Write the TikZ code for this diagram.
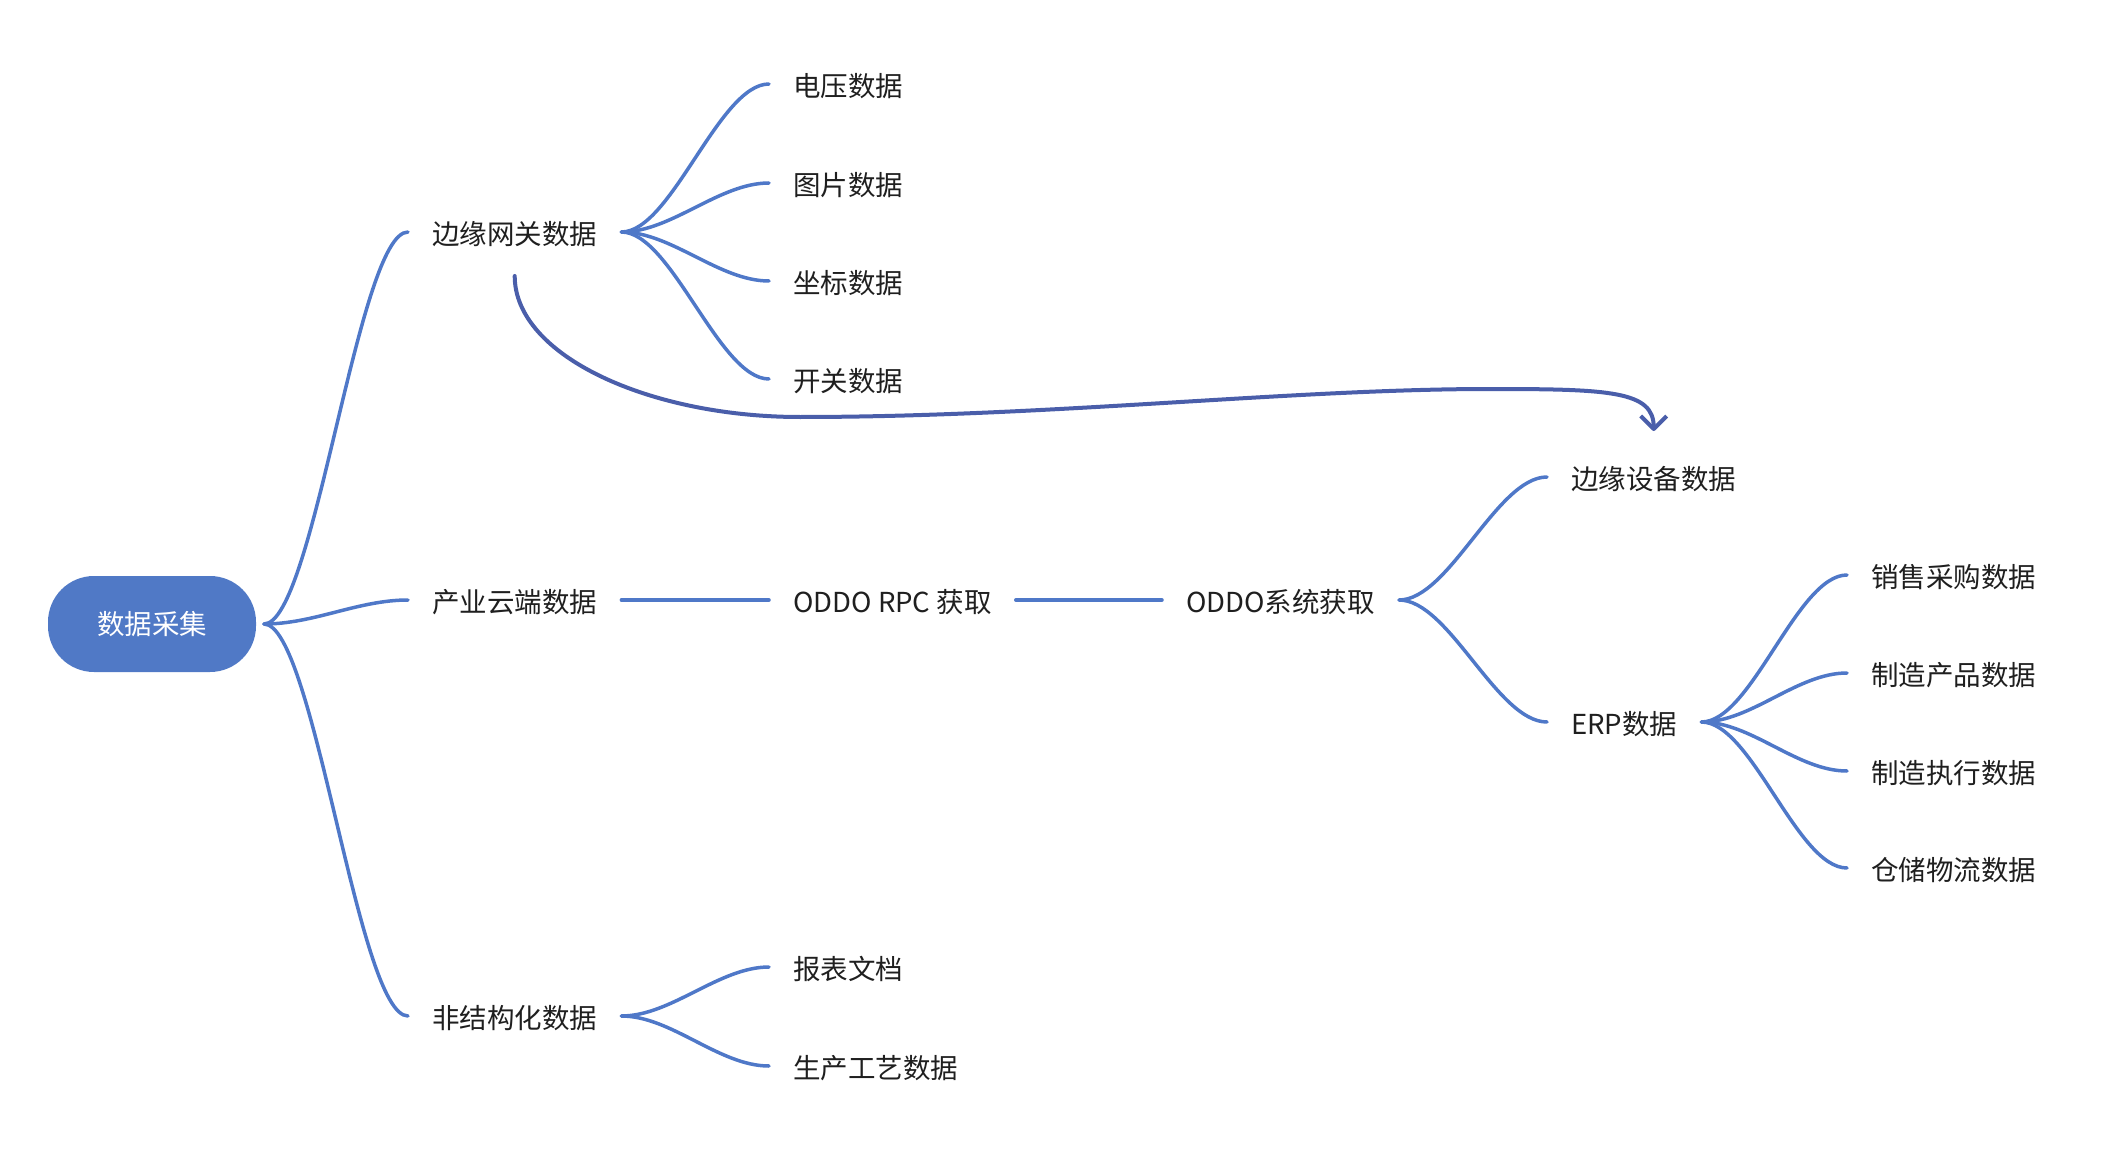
\documentclass[tikz,border=0pt]{standalone}
\usepackage{fontspec}
\setmainfont{Noto Sans CJK SC}
\usetikzlibrary{arrows.meta}

\definecolor{branchblue}{HTML}{4F78C8}
\definecolor{rootblue}{HTML}{5079C6}
\definecolor{jumpblue}{HTML}{4A5EAA}
\definecolor{labelgray}{HTML}{1F1F1F}

\tikzset{
  topic/.style={anchor=west, inner xsep=24pt, inner ysep=0pt, text height=26.6pt, text depth=1.9pt, text=labelgray},
  root/.style={fill=rootblue, text=white, rounded corners=46pt, minimum width=208pt, minimum height=96pt, outer xsep=8pt},
  branch/.style={draw=branchblue, line width=3.5pt, line cap=round, to path={.. controls +(50,0) and +(-50,0) .. (\tikztotarget) \tikztonodes}},
  jump/.style={draw=jumpblue, line width=4pt, line cap=round, -{Straight Barb[length=13pt,width=26pt,line join=round]}}
}

\begin{document}
\begin{tikzpicture}[x=1pt, y=-1pt, font=\fontsize{27.5pt}{33pt}\selectfont]
    \useasboundingbox (0,0) rectangle (2102,1150);

    % draw root
    \node[root] (root) at (152,624) {数据采集};

    % draw first level
    \node[topic] (gw) at (408,232) {边缘网关数据};
    \node[topic] (cloud) at (408,600) {产业云端数据};
    \node[topic] (unstr) at (408,1016) {非结构化数据};

    % draw gateway leaves
    \foreach \name/\y/\txt in {volt/84/电压数据, pic/183/图片数据, coord/281/坐标数据, switch/379/开关数据}
      \node[topic] (\name) at (769,\y) {\txt};

    % draw unstructured leaves
    \node[topic] (report) at (769,967) {报表文档};
    \node[topic] (craft) at (769,1066) {生产工艺数据};

    % draw cloud chain
    \node[topic] (rpc) at (769,600) {ODDO RPC 获取};
    \node[topic] (sys) at (1162,600) {ODDO系统获取};
    \node[topic] (edge) at (1547,477) {边缘设备数据};
    \node[topic] (erp) at (1547,722) {ERP数据};

    % draw erp leaves
    \foreach \name/\y/\txt in {sales/575/销售采购数据, prod/673/制造产品数据, exec/771/制造执行数据, store/868/仓储物流数据}
      \node[topic] (\name) at (1847,\y) {\txt};

    % draw branches
    \foreach \c in {gw,cloud,unstr}
      \draw[branch] (root.east) to (\c.west);
    \foreach \c in {volt,pic,coord,switch}
      \draw[branch] (gw.east) to (\c.west);
    \foreach \c in {report,craft}
      \draw[branch] (unstr.east) to (\c.west);
    \draw[branch] (cloud.east) to (rpc.west);
    \draw[branch] (rpc.east) to (sys.west);
    \foreach \c in {edge,erp}
      \draw[branch] (sys.east) to (\c.west);
    \foreach \c in {sales,prod,exec,store}
      \draw[branch] (erp.east) to (\c.west);

    % draw relation arrow
    \draw[jump] ([yshift=-44pt]gw.center) .. controls +(0,80) and +(-150,0) .. (800,417)
      .. controls +(250,0) and +(-200,0) .. (1490,389)
      .. controls +(120,0) and +(0,-40) .. ([yshift=46pt]edge.center);
  \end{tikzpicture}
\end{document}
